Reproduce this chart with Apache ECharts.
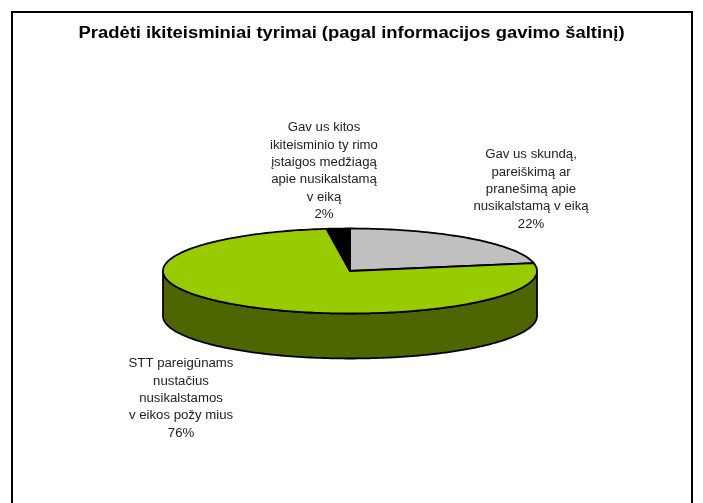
<html>

<head>

<meta charset="utf-8">

<title>Pradėti ikiteisminiai tyrimai</title>

<script src="https://cdn.jsdelivr.net/npm/echarts@6/dist/echarts.min.js"></script>

<style>
html, body { margin: 0; padding: 0; background: #fff; }
#chart { width: 703px; height: 503px; }
</style>

</head>

<body>

<div id="chart"></div>

<script>
var TITLE = 'Pradėti ikiteisminiai tyrimai (pagal informacijos gavimo šaltinį)';

// slices clockwise from 12 o'clock
var categories = [
	'Gav us skundą,\npareiškimą ar\npranešimą apie\nnusikalstamą v eiką',
	'STT pareigūnams\nnustačius\nnusikalstamos\nv eikos požy mius',
	'Gav us kitos\nikiteisminio ty rimo\nįstaigos medžiagą\napie nusikalstamą\nv eiką'
];
var values = [22, 76, 2];
var topColors = ['#c0c0c0', '#99cc00', '#000000'];
var sideColors = ['#606060', '#4d6600', '#000000'];

// pie shape on the page
var CX = 350, CY = 271, RX = 187, RY = 42.5, DEPTH = 45;
// label centres, x and y of the first line
var labelPos = [[531, 155], [181, 364], [324, 128]];
var LINE_H = 17.3;

var total = values.reduce(function (a, b) { return a + b; }, 0);

function sliceAngles(idx) {
	var sum = 0;
	for (var i = 0; i < idx; i++) sum += values[i];
	return [sum / total * Math.PI * 2, (sum + values[idx]) / total * Math.PI * 2];
}

function pt(a, dy) {
	return [CX + RX * Math.sin(a), CY - RY * Math.cos(a) + dy];
}

// outline of an elliptical arc as many small segments
function arcPts(a0, a1, dy) {
	var out = [], n = Math.max(2, Math.ceil((a1 - a0) / 0.02));
	for (var i = 0; i <= n; i++) out.push(pt(a0 + (a1 - a0) * i / n, dy));
	return out;
}

function renderSide(params, api) {
	var a = sliceAngles(params.dataIndex);
	// only the front half of the wall can be seen
	var a0 = Math.max(a[0], Math.PI / 2), a1 = Math.min(a[1], Math.PI * 1.5);
	if (a1 <= a0) return { type: 'group', children: [] };
	var pts = arcPts(a0, a1, 0).concat(arcPts(a0, a1, DEPTH).reverse());
	return {
		type: 'polygon',
		shape: { points: pts },
		style: { fill: sideColors[params.dataIndex], stroke: '#000', lineWidth: 1.8 }
	};
}

function renderTop(params, api) {
	var a = sliceAngles(params.dataIndex);
	var pts = [[CX, CY]].concat(arcPts(a[0], a[1], 0));
	return {
		type: 'polygon',
		shape: { points: pts },
		style: { fill: topColors[params.dataIndex], stroke: '#000', lineWidth: 1.8, lineJoin: 'round' }
	};
}

function renderLabel(params, api) {
	var i = params.dataIndex;
	var lines = (categories[i] + '\n' + values[i] + '%').split('\n');
	return {
		type: 'group',
		children: lines.map(function (s, k) {
			return {
				type: 'text',
				x: labelPos[i][0],
				y: labelPos[i][1] + k * LINE_H,
				scaleX: 1.1,
				style: {
					text: s,
					fill: '#222',
					font: '12px "Liberation Sans"',
					align: 'center',
					verticalAlign: 'middle'
				}
			};
		})
	};
}

var chart = echarts.init(document.getElementById('chart'), null, { renderer: 'canvas' });

var seriesData = values.map(function (v, i) { return { name: categories[i], value: v }; });

chart.setOption({
	animation: false,
	backgroundColor: '#fff',
	graphic: [{
		type: 'polyline',
		shape: { points: [[12, 503], [12, 12], [692, 12], [692, 503]] },
		style: { fill: null, stroke: '#000', lineWidth: 2 },
		silent: true
	}, {
		type: 'text',
		x: 351.5,
		y: 34,
		scaleX: 1.15,
		style: {
			text: TITLE,
			fill: '#000',
			font: 'bold 16px "Liberation Sans"',
			align: 'center',
			verticalAlign: 'middle'
		},
		silent: true
	}],
	series: [
		{ type: 'custom', coordinateSystem: 'none', renderItem: renderSide, data: seriesData, silent: true, z: 1 },
		{ type: 'custom', coordinateSystem: 'none', renderItem: renderTop, data: seriesData, silent: true, z: 2 },
		{ type: 'custom', coordinateSystem: 'none', renderItem: renderLabel, data: seriesData, silent: true, z: 3 }
	]
});
</script>

</body>

</html>
